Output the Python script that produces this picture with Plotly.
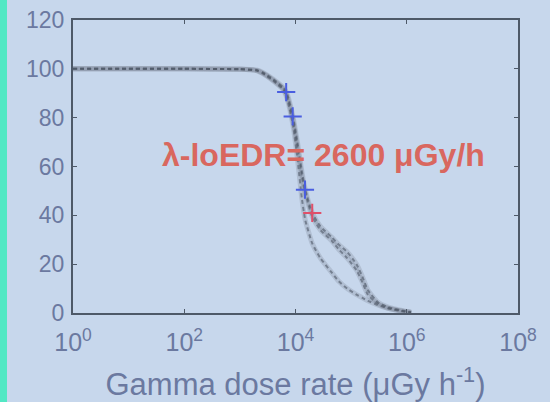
import plotly.graph_objects as go

# Gamma dose rate (uGy/h) sample positions
dose_rate = [1, 10, 100, 1000, 2000, 2600, 4000, 6000, 7000, 9000, 11000,
             13000, 15000, 20000, 28000, 45000, 60000, 85000, 125000,
             160000, 200000, 300000, 450000, 900000, 1200000]

# Response (%) for the three fitted curves
curve_low = [100, 100, 100, 99.8, 99.3, 98, 95, 91.5, 88, 77, 62, 47, 38,
             28.5, 22.5, 16.5, 13, 10, 7.5, 6.2, 5, 3.3, 2, 0.6, 0.2]
curve_mid = [100, 100, 100, 99.8, 99.3, 98.2, 95.3, 91.8, 89, 79, 67, 56, 49,
             39.5, 34, 29.5, 26, 22.5, 17.5, 12.5, 7.5, 3.8, 2, 0.6, 0.2]
curve_high = [100, 100, 100, 99.9, 99.5, 98.5, 95.7, 92.4, 90, 80.5, 69, 58,
              50.5, 41, 35.5, 31, 28, 25, 20, 14.8, 9.4, 4.5, 2.5, 0.8, 0.3]

# Marked points on the curves
blue_x = [6800, 8900, 14800]
blue_y = [90.5, 80.5, 50.5]
red_x = [20000]
red_y = [41]

fig = go.Figure()

# Soft grey band under a dark dashed stroke for each curve
for ys in (curve_low, curve_mid, curve_high):
    fig.add_trace(go.Scatter(x=dose_rate, y=ys, mode="lines",
                             line=dict(color="rgba(110,120,135,0.25)", width=5),
                             line_shape="spline", line_smoothing=0.5,
                             hoverinfo="skip"))
    fig.add_trace(go.Scatter(x=dose_rate, y=ys, mode="lines",
                             line=dict(color="rgba(75,85,100,0.6)", width=2,
                                       dash="4px,3px"),
                             line_shape="spline", line_smoothing=0.5,
                             hoverinfo="skip"))

fig.add_trace(go.Scatter(x=blue_x, y=blue_y, mode="markers",
                         marker=dict(symbol="cross-thin", size=13,
                                     line=dict(color="#4a5ee0", width=2))))
fig.add_trace(go.Scatter(x=red_x, y=red_y, mode="markers",
                         marker=dict(symbol="cross-thin", size=13,
                                     line=dict(color="#e0506a", width=2))))

fig.add_annotation(x=(160 - 73) / 445, y=(313 - 155) / 293,
                   xref="paper", yref="paper",
                   text="<b>λ-loEDR= 2600 μGy/h</b>", showarrow=False,
                   xanchor="left", yanchor="middle",
                   font=dict(family="Arial, Liberation Sans", size=32,
                             color="#d9675f"))

# Aquamarine stripe along the left edge
fig.add_shape(type="rect", xref="paper", yref="paper",
              x0=-73 / 445, x1=-66 / 445, y0=-1, y1=2,
              fillcolor="#52e8c4", line_width=0, layer="below")

label_color = "#6b79a0"
fig.update_xaxes(type="log", range=[0, 8], automargin=False,
                 tickvals=[1, 100, 10000, 1000000, 100000000],
                 ticktext=["10<sup>0</sup>", "10<sup>2</sup>", "10<sup>4</sup>",
                           "10<sup>6</sup>", "10<sup>8</sup>"],
                 ticks="inside", ticklen=4, tickcolor="#4e5968",
                 showline=True, linecolor="#4e5968", linewidth=2, mirror="ticks",
                 showgrid=False, zeroline=False, ticklabelstandoff=6,
                 tickfont=dict(family="Arial, Liberation Sans", size=25,
                               color=label_color),
                 title=dict(text="Gamma dose rate (μGy h<sup>-1</sup>)",
                            font=dict(family="Arial, Liberation Sans", size=31,
                                      color=label_color),
                            standoff=18))
fig.update_yaxes(range=[0, 120], dtick=20, automargin=False,
                 ticks="inside", ticklen=4, tickcolor="#4e5968",
                 showline=True, linecolor="#4e5968", linewidth=2, mirror="ticks",
                 showgrid=False, zeroline=False, ticklabelstandoff=2,
                 tickfont=dict(family="Arial, Liberation Sans", size=23,
                               color=label_color))

fig.update_layout(width=550, height=402, showlegend=False,
                  margin=dict(l=73, r=32, t=20, b=89),
                  paper_bgcolor="#c7d7ec", plot_bgcolor="#c7d7ec")

fig.write_html("out.html")
